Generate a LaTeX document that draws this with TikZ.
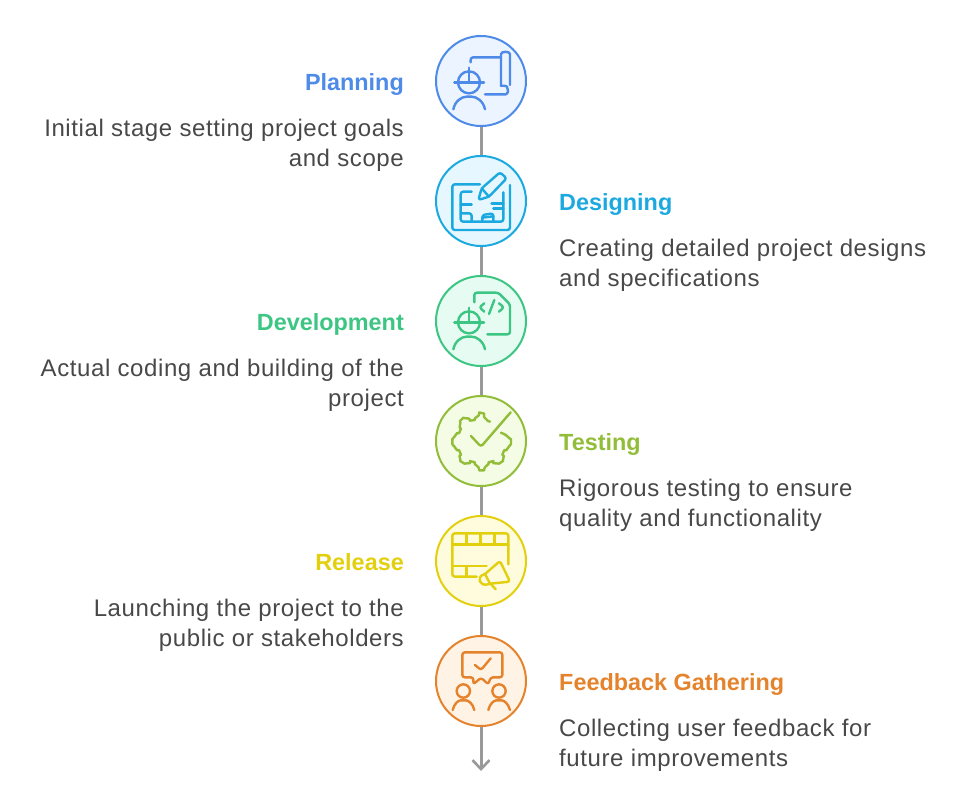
\documentclass[tikz,border=0pt]{standalone}
\usepackage{fontspec}
\setmainfont{Liberation Sans}
\newfontfamily\descfont[LetterSpace=2.5]{Liberation Sans}
\usetikzlibrary{arrows.meta}
\definecolor{textcolor}{RGB}{72,72,72}
\definecolor{linecolor}{RGB}{153,153,153}
\definecolor{planningcolor}{RGB}{78,138,232}
\definecolor{planningfill}{RGB}{236,244,255}
\definecolor{designingcolor}{RGB}{28,169,223}
\definecolor{designingfill}{RGB}{230,247,255}
\definecolor{developmentcolor}{RGB}{60,197,131}
\definecolor{developmentfill}{RGB}{230,252,243}
\definecolor{testingcolor}{RGB}{146,189,57}
\definecolor{testingfill}{RGB}{244,252,229}
\definecolor{releasecolor}{RGB}{226,207,14}
\definecolor{releasefill}{RGB}{255,251,221}
\definecolor{feedbackcolor}{RGB}{229,131,45}
\definecolor{feedbackfill}{RGB}{255,243,230}
\tikzstyle{stepcircle} = [circle, draw, line width=2pt, minimum size=90pt, inner sep=0pt]
\tikzstyle{steptitle} = [font=\fontsize{23.4}{30}\selectfont\bfseries, inner sep=0pt, text height=17pt, text depth=5pt]
\tikzstyle{stepleft} = [font=\descfont\fontsize{24}{30}\selectfont, text=textcolor, inner sep=0pt, anchor=east, align=right]
\tikzstyle{stepright} = [font=\descfont\fontsize{24}{30}\selectfont, text=textcolor, inner sep=0pt, anchor=west, align=left]
\tikzstyle{link} = [color=linecolor, line width=3pt]
\tikzstyle{icon} = [x=0.3333pt, y=-0.3333pt, line width=2.4pt, line cap=round, line join=round, rounded corners=2.5pt]
\newcommand{\helmetperson}{
    \draw (132,172) circle [radius=33];
    \draw (88,172) -- (177,172);
    \draw (132,128) -- (132,172);
    \draw (85,253) .. controls (90,228) and (110,215) .. (132,215) .. controls (155,215) and (175,228) .. (180,253);
}
\begin{document}
\begin{tikzpicture}[x=1pt, y=-1pt]
    \useasboundingbox (0,0) rectangle (963,809);

    % Connectors first, circles on top
    \node[stepcircle, color=planningcolor, fill=planningfill] (planning) at (481,81) {};
    \node[stepcircle, color=designingcolor, fill=designingfill] (designing) at (481,201) {};
    \node[stepcircle, color=developmentcolor, fill=developmentfill] (development) at (481,321) {};
    \node[stepcircle, color=testingcolor, fill=testingfill] (testing) at (481,441) {};
    \node[stepcircle, color=releasecolor, fill=releasefill] (release) at (481,561) {};
    \node[stepcircle, color=feedbackcolor, fill=feedbackfill] (feedback) at (481,681) {};
    \coordinate (arrowend) at (481,771);
    \draw[link] (planning) -- (designing);
    \draw[link] (designing) -- (development);
    \draw[link] (development) -- (testing);
    \draw[link] (testing) -- (release);
    \draw[link] (release) -- (feedback);
    \draw[link, -{Straight Barb[length=9pt, width=17pt, line width=2.6pt]}] (feedback) -- (arrowend);

    % Planning
    \node[steptitle, anchor=east, color=planningcolor] (planning_title) at (404,84) {Planning};
    \node[stepleft] (planning_text) at (404,145) {Initial stage setting project goals\\and scope};
    \begin{scope}[shift={(planning.center)}, xshift=-56pt, yshift=56pt, icon, color=planningcolor]
        \helmetperson
        \draw (137,112) -- (137,97) -- (228,97);
        \draw (255,180) -- (255,95) .. controls (255,78) and (228,78) .. (228,95) -- (228,175) .. controls (228,182) and (245,182) .. (248,192) .. controls (250,203) and (243,208) .. (235,208) -- (180,208);
    \end{scope}

    % Designing
    \node[steptitle, anchor=west, color=designingcolor] (designing_title) at (559,204) {Designing};
    \node[stepright] (designing_text) at (559,265) {Creating detailed project designs\\and specifications};
    \begin{scope}[shift={(designing.center)}, xshift=-56pt, yshift=56pt, icon, color=designingcolor]
        \draw (165,118) -- (82,118) -- (82,255) -- (255,255) -- (255,120);
        \draw (160,165) -- (170,130) -- (225,82) -- (245,100) -- (192,155) -- cycle;
        \draw (170,130) -- (192,155);
        \draw (140,140) -- (107,140) -- (107,230) -- (235,230) -- (235,142);
        \draw (107,178) -- (140,178);
        \draw (107,205) -- (140,205) -- (140,230);
        \draw (200,175) -- (235,175);
        \draw (205,190) -- (235,190);
        \draw (172,230) -- (172,210) -- (205,205) -- (205,230);
        \draw (172,218) -- (205,214);
    \end{scope}

    % Development
    \node[steptitle, anchor=east, color=developmentcolor] (development_title) at (404,324) {Development};
    \node[stepleft] (development_text) at (404,385) {Actual coding and building of the\\project};
    \begin{scope}[shift={(development.center)}, xshift=-56pt, yshift=56pt, icon, color=developmentcolor]
        \helmetperson
        \draw (148,112) -- (148,83) -- (220,83) -- (255,118) -- (255,208) -- (187,208);
        \draw (178,115) -- (163,127) -- (178,140);
        \draw (208,105) -- (192,147);
        \draw (222,115) -- (237,127) -- (222,140);
    \end{scope}

    % Testing
    \node[steptitle, anchor=west, color=testingcolor] (testing_title) at (559,444) {Testing};
    \node[stepright] (testing_text) at (559,505) {Rigorous testing to ensure\\quality and functionality};
    \begin{scope}[shift={(testing.center)}, xshift=-56pt, yshift=56pt, icon, color=testingcolor]
        \draw plot[smooth, tension=0.8] coordinates {(195,110) (183,102) (170,84) (155,96) (142,106) (125,100) (110,103) (105,120) (105,138) (92,150) (82,170) (92,190) (105,202) (105,220) (112,232) (128,235) (142,230) (155,242) (170,256) (185,242) (198,230) (212,235) (228,232) (235,220) (235,202) (248,190) (258,170) (248,155) (228,143)};
        \draw (138,153) -- (168,185) -- (257,82);
    \end{scope}

    % Release
    \node[steptitle, anchor=east, color=releasecolor] (release_title) at (404,564) {Release};
    \node[stepleft] (release_text) at (404,625) {Launching the project to the\\public or stakeholders};
    \begin{scope}[shift={(release.center)}, xshift=-56pt, yshift=56pt, icon, color=releasecolor]
        \draw (250,178) -- (250,85) -- (82,85) -- (82,215) -- (155,215);
        \draw (82,118) -- (250,118);
        \draw (125,85) -- (125,118);
        \draw (167,85) -- (167,118);
        \draw (208,85) -- (208,118);
        \draw (82,183) -- (185,183);
        \draw (125,183) -- (125,215);
        \draw (180,207) -- (225,168) -- (255,230) -- (195,236) .. controls (165,245) and (150,215) .. (180,207);
        \draw (180,207) -- (195,236);
        \draw (197,236) -- (212,253);
    \end{scope}

    % Feedback Gathering
    \node[steptitle, anchor=west, color=feedbackcolor] (feedback_title) at (559,684) {Feedback Gathering};
    \node[stepright] (feedback_text) at (559,745) {Collecting user feedback for\\future improvements};
    \begin{scope}[shift={(feedback.center)}, xshift=-56pt, yshift=56pt, icon, color=feedbackcolor]
        \draw (145,157) -- (112,157) -- (112,82) -- (232,82) -- (232,157) -- (197,157) -- (190,178) -- (168,158) -- (145,178) -- cycle;
        \draw (150,120) -- (168,135) -- (197,100);
        \draw (115,198) circle [radius=20];
        \draw (222,198) circle [radius=20];
        \draw (83,255) .. controls (88,235) and (100,226) .. (115,226) .. controls (130,226) and (143,235) .. (148,255);
        \draw (190,255) .. controls (195,235) and (207,226) .. (222,226) .. controls (237,226) and (250,235) .. (255,255);
    \end{scope}
\end{tikzpicture}
\end{document}
